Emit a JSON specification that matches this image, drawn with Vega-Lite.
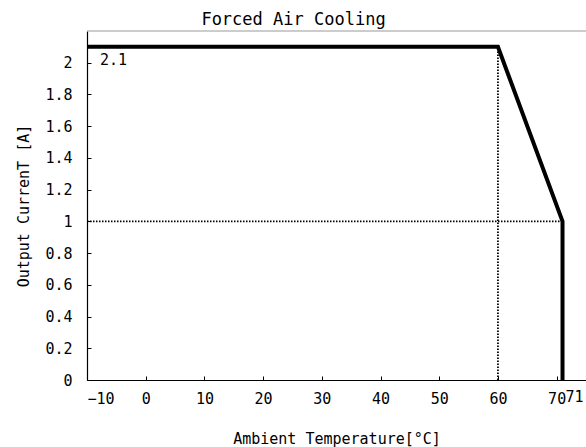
{
  "$schema": "https://vega.github.io/schema/vega-lite/v6.json",
  "width": 499,
  "height": 349,
  "autosize": {"type": "none"},
  "padding": {"left": 87, "top": 31, "right": 0, "bottom": 67},
  "background": "white",
  "config": {
    "view": {"stroke": null},
    "font": "DejaVu Sans Mono",
    "axis": {"grid": false, "domainColor": "black", "tickColor": "black", "labelColor": "black", "titleColor": "black", "labelFont": "DejaVu Sans Mono", "titleFont": "DejaVu Sans Mono", "labelFontSize": 15, "titleFontSize": 15, "titleFontWeight": "normal", "tickSize": -4, "domainWidth": 1.2, "labelOverlap": false}
  },
  "title": {"text": "Forced Air Cooling", "font": "DejaVu Sans Mono", "fontSize": 17, "fontWeight": "normal", "anchor": "middle", "frame": "group", "dx": -43, "offset": 1, "color": "black"},
  "datasets": {
    "curve": [
      {"t": -10, "a": 2.1, "k": 1},
      {"t": 60, "a": 2.1, "k": 2},
      {"t": 71, "a": 1.0, "k": 3},
      {"t": 71, "a": 0.0, "k": 4}
    ],
    "guides": [
      {"t": 60, "a": 0, "t2": 60, "a2": 2.1},
      {"t": -10, "a": 1, "t2": 71, "a2": 1}
    ],
    "border": [
      {"a": 2.2}
    ],
    "notes": [
      {"t": -7.8, "a": 2.02, "label": "2.1"}
    ],
    "notes2": [
      {"t": 71, "a": 0, "label": "71"}
    ]
  },
  "encoding": {
    "x": {"field": "t", "type": "quantitative", "scale": {"domain": [-10, 75], "nice": false, "zero": false},
          "axis": {"values": [-10, 0, 10, 20, 30, 40, 50, 60, 70], "title": "Ambient Temperature[°C]", "labelPadding": 15, "titlePadding": 25, "labelOverlap": false}},
    "y": {"field": "a", "type": "quantitative", "scale": {"domain": [0, 2.2], "nice": false},
          "axis": {"values": [0, 0.2, 0.4, 0.6, 0.8, 1, 1.2, 1.4, 1.6, 1.8, 2], "tickCount": 11, "format": "~g", "title": "Output CurrenT [A]", "labelPadding": 19, "titlePadding": 13, "labelOverlap": false, "labelFlush": false, "labelSeparation": 0}}
  },
  "layer": [
    {
      "data": {"name": "guides"},
      "mark": {"type": "rule", "color": "black", "strokeWidth": 1.8, "strokeDash": [1.5, 1.5]},
      "encoding": {
        "x2": {"field": "t2"},
        "y2": {"field": "a2"}
      }
    },
    {
      "data": {"name": "border"},
      "mark": {"type": "rule", "color": "#999999", "strokeWidth": 1.2},
      "encoding": {"x": null}
    },
    {
      "data": {"name": "curve"},
      "mark": {"type": "line", "color": "black", "strokeWidth": 4, "strokeJoin": "miter"},
      "encoding": {
        "order": {"field": "k", "type": "quantitative"}
      }
    },
    {
      "data": {"name": "notes"},
      "mark": {"type": "text", "align": "left", "baseline": "middle", "fontSize": 15, "color": "black", "font": "DejaVu Sans Mono"},
      "encoding": {
        "text": {"field": "label"}
      }
    },
    {
      "data": {"name": "notes2"},
      "mark": {"type": "text", "align": "left", "baseline": "top", "dy": 10, "dx": 3, "fontSize": 15, "color": "black", "font": "DejaVu Sans Mono"},
      "encoding": {
        "text": {"field": "label"}
      }
    }
  ]
}
